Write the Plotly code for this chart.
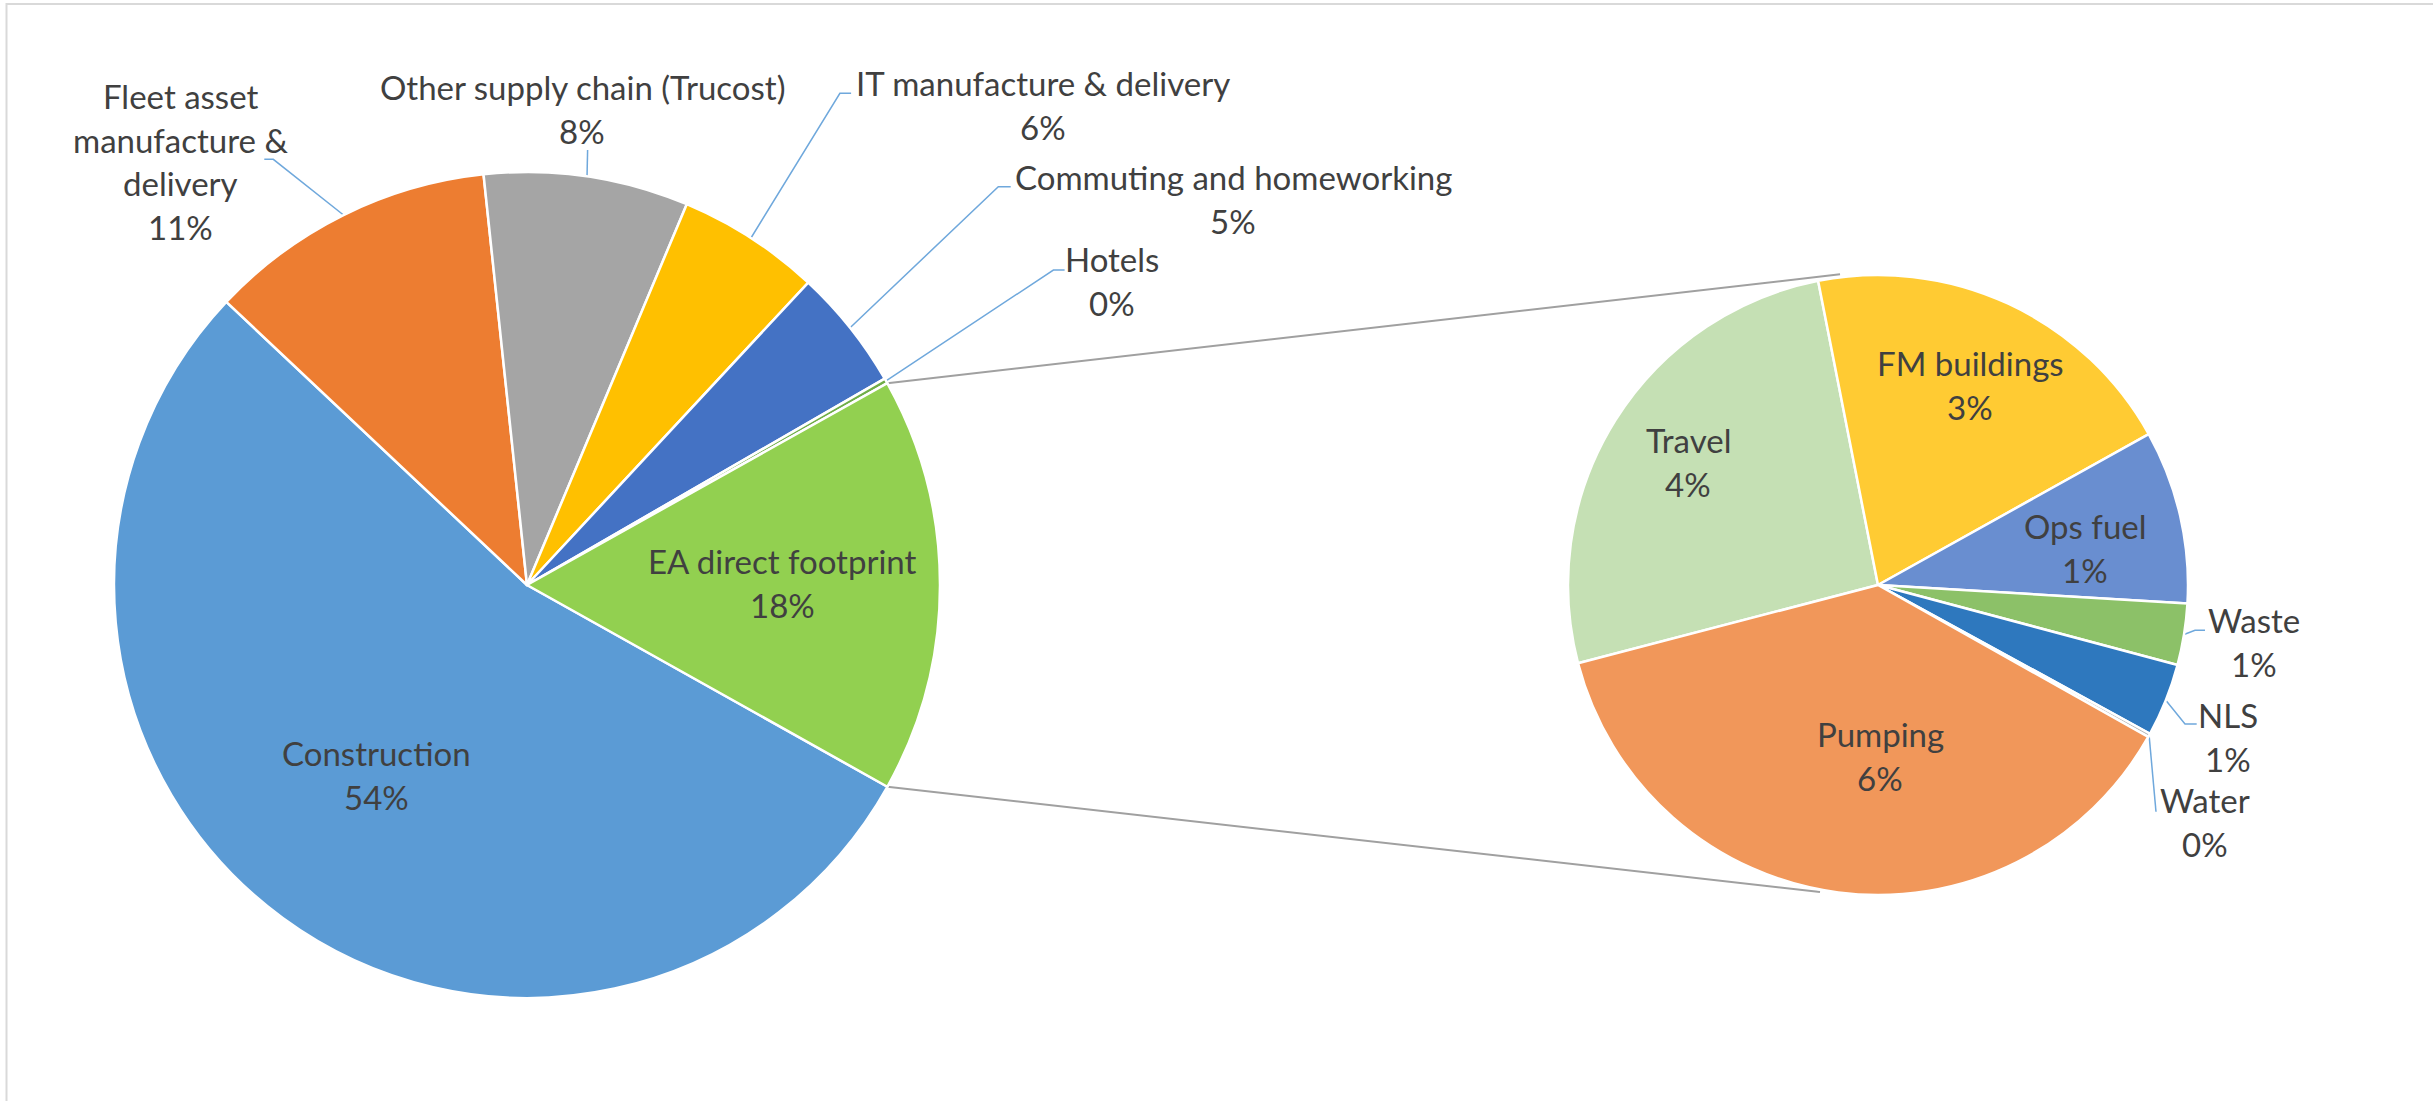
import math
import plotly.graph_objects as go

# ---------------- data ----------------
main_labels = ["Construction", "Fleet asset manufacture & delivery",
               "Other supply chain (Trucost)", "IT manufacture & delivery",
               "Commuting and homeworking", "Hotels", "EA direct footprint"]
main_values = [53.9, 11.3, 8.0, 5.6, 4.75, 0.2, 16.25]
main_pct_text = ["54%", "11%", "8%", "6%", "5%", "0%", "18%"]

sec_labels = ["Travel", "FM buildings", "Ops fuel", "Waste", "NLS", "Water", "Pumping"]
sec_values = [4.22, 3.25, 1.47, 0.52, 0.62, 0.03, 6.14]
sec_pct_text = ["4%", "3%", "1%", "1%", "1%", "0%", "6%"]

# ---------------- style / layout ----------------
W, H = 2433, 1101
FONT = "Lato"
FS = 33
TXT = "#404040"
LINE_GAP = 43.5

main_colors = ["#5B9BD5", "#ED7D31", "#A5A5A5", "#FFC000", "#4472C4", "#70AD47", "#92D050"]
sec_colors = ["#C5E0B4", "#FFCB33", "#698ED0", "#8CC168", "#2E78BE", "#B7B7B7", "#F1975A"]

main_cx, main_cy, main_r = 527, 585, 413
sec_cx, sec_cy, sec_r = 1878, 585, 310
main_rot = 119.24
sec_rot = 255.37

# display lines for each label (name split as in the original)
main_display = [["Construction"], ["Fleet asset", "manufacture &", "delivery"],
                ["Other supply chain (Trucost)"], ["IT manufacture & delivery"],
                ["Commuting and homeworking"], ["Hotels"], ["EA direct footprint"]]
sec_display = [[s] for s in sec_labels]

# label positions (x centre, y of first line) in pixels
main_label_pos = [(376, 753), (180, 96), (582, 87), (1043, 83), (1233, 177), (1112, 259), (782, 561)]
sec_label_pos = [(1688, 440), (1970, 363), (2085, 526), (2254, 620), (2228, 715), (2205, 800), (1880, 734)]

# leader lines: index -> list of elbow points after the slice edge point
main_leaders = {1: [(273.3, 159.3), (264.3, 159.3)],
                2: [(587.6, 150)],
                3: [(839.9, 93.3), (851.1, 93.3)],
                4: [(998.3, 186.7), (1010.7, 186.7)],
                5: [(1053.4, 270), (1064.6, 270)]}
sec_leaders = {3: [(2195, 630.3), (2205, 630.3)],
               4: [(2185, 724), (2196.7, 724)],
               5: [(2156, 811.7)]}

# connector end angles/radii on secondary pie
conn_top = (-6.97, 313)
conn_bot = (190.7, 312.4)


def mid_angles(values, rot):
    tot = sum(values)
    out, a = [], rot
    bounds = [a]
    for v in values:
        span = 360.0 * v / tot
        out.append(a + span / 2)
        a += span
        bounds.append(a)
    return out, bounds


def polar(cx, cy, r, ang):
    t = math.radians(ang)
    return cx + r * math.sin(t), cy - r * math.cos(t)


def domain(cx, cy, r):
    return dict(x=[(cx - r) / W, (cx + r) / W], y=[1 - (cy + r) / H, 1 - (cy - r) / H])


fig = go.Figure()

fig.add_trace(go.Pie(labels=main_labels, values=main_values, sort=False,
                     direction="clockwise", rotation=main_rot,
                     domain=domain(main_cx, main_cy, main_r),
                     marker=dict(colors=main_colors, line=dict(color="white", width=2.5)),
                     textinfo="none", hoverinfo="label+value", showlegend=False))
fig.add_trace(go.Pie(labels=sec_labels, values=sec_values, sort=False,
                     direction="clockwise", rotation=sec_rot,
                     domain=domain(sec_cx, sec_cy, sec_r),
                     marker=dict(colors=sec_colors, line=dict(color="white", width=2.5)),
                     textinfo="none", hoverinfo="label+value", showlegend=False))

main_mid, main_b = mid_angles(main_values, main_rot)
sec_mid, sec_b = mid_angles(sec_values, sec_rot)

# connector lines between the "EA direct footprint" slice and secondary pie
ea_start, ea_end = main_b[-2], main_b[-1]
p_top0 = polar(main_cx, main_cy, main_r, ea_start)
p_bot0 = polar(main_cx, main_cy, main_r, ea_end)
p_top1 = polar(sec_cx, sec_cy, conn_top[1], conn_top[0])
p_bot1 = polar(sec_cx, sec_cy, conn_bot[1], conn_bot[0])
fig.add_trace(go.Scatter(x=[p_top0[0], p_top1[0], None, p_bot0[0], p_bot1[0]],
                         y=[p_top0[1], p_top1[1], None, p_bot0[1], p_bot1[1]],
                         mode="lines", line=dict(color="#A0A0A0", width=2),
                         hoverinfo="skip", showlegend=False))

# leader lines
lx, ly = [], []
for idx, pts in main_leaders.items():
    e = polar(main_cx, main_cy, main_r, main_mid[idx])
    lx += [e[0]] + [p[0] for p in pts] + [None]
    ly += [e[1]] + [p[1] for p in pts] + [None]
for idx, pts in sec_leaders.items():
    e = polar(sec_cx, sec_cy, sec_r, sec_mid[idx])
    lx += [e[0]] + [p[0] for p in pts] + [None]
    ly += [e[1]] + [p[1] for p in pts] + [None]
fig.add_trace(go.Scatter(x=lx, y=ly, mode="lines", line=dict(color="#6FA8DC", width=1.5),
                         hoverinfo="skip", showlegend=False))

annotations = []
for disp, pct, (x, y) in list(zip(main_display, main_pct_text, main_label_pos)) + \
        list(zip(sec_display, sec_pct_text, sec_label_pos)):
    lines = disp + [pct]
    for i, t in enumerate(lines):
        annotations.append(dict(x=x, y=y + i * LINE_GAP, xref="x", yref="y", text=t,
                                showarrow=False, xanchor="center", yanchor="middle",
                                font=dict(family=FONT, size=FS, color=TXT)))

fig.update_layout(
    width=W, height=H,
    margin=dict(l=0, r=0, t=0, b=0),
    paper_bgcolor="white", plot_bgcolor="rgba(0,0,0,0)",
    xaxis=dict(range=[0, W], visible=False, fixedrange=True),
    yaxis=dict(range=[H, 0], visible=False, fixedrange=True),
    annotations=annotations,
    shapes=[dict(type="rect", xref="x", yref="y", x0=6.5, y0=4, x1=W + 20, y1=H + 20,
                 line=dict(color="#D9D9D9", width=2), layer="below")],
)

fig.write_html("out.html")
